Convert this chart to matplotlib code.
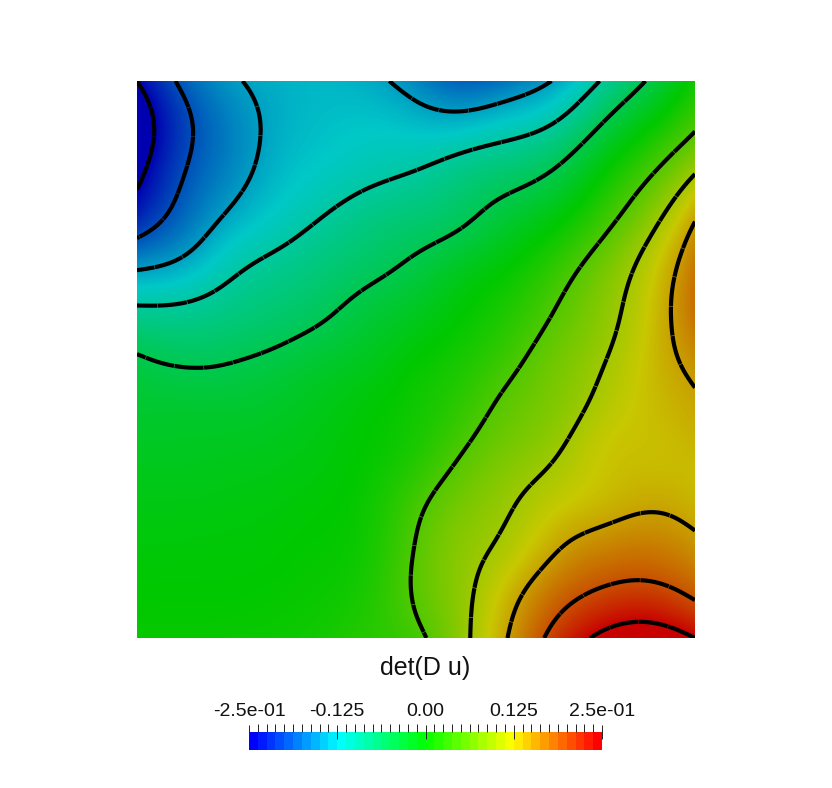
import numpy as np
import matplotlib
matplotlib.use('Agg')
import matplotlib.pyplot as plt
import matplotlib.tri as mtri
from matplotlib.colors import LinearSegmentedColormap

plt.rcParams['font.family'] = ['Liberation Sans', 'DejaVu Sans']

# det(D u), rows from the top edge to the bottom edge
row_00 = [-.25, -.19, -.155, -.14, -.135, -.142, -.165, -.19, -.175, -.148, -.097, -.047, .01]
row_01 = [-.28, -.21, -.17, -.142, -.13, -.125, -.13, -.13, -.115, -.095, -.045, 0, .045]
row_02 = [-.26, -.2, -.165, -.135, -.12, -.108, -.098, -.08, -.066, -.045, 0, .045, .1]
row_03 = [-.225, -.182, -.142, -.118, -.098, -.08, -.07, -.056, -.03, -.005, .035, .085, .15]
row_04 = [-.155, -.14, -.108, -.09, -.075, -.06, -.043, -.02, 0, .03, .07, .115, .175]
row_05 = [-.09, -.09, -.08, -.069, -.055, -.035, -.02, 0, .02, .052, .085, .125, .18]
row_06 = [-.045, -.055, -.052, -.043, -.03, -.018, 0, .015, .04, .07, .097, .13, .16]
row_07 = [-.03, -.03, -.03, -.025, -.015, -.003, .01, .03, .06, .08, .11, .13, .145]
row_08 = [-.02, -.02, -.018, -.015, -.008, .002, .018, .05, .076, .097, .125, .13, .135]
row_09 = [-.012, -.012, -.01, -.007, -.002, .008, .04, .072, .095, .118, .132, .143, .135]
row_10 = [-.006, -.005, -.004, -.002, .002, .012, .052, .086, .108, .145, .165, .172, .158]
row_11 = [0, 0, 0, .002, .006, .018, .055, .09, .135, .18, .204, .211, .19]
row_12 = [.004, .004, .005, .007, .012, .025, .04, .09, .152, .215, .26, .275, .25]
rows = [row_00, row_01, row_02, row_03, row_04, row_05, row_06,
        row_07, row_08, row_09, row_10, row_11, row_12]

levels = [-.25, -.2, -.15, -.1, -.05, .05, .1, .15, .2, .25]
bar_ticks = [-.25, -.125, 0, .125, .25]
bar_labels = ['-2.5e-01', '-0.125', '0.00', '0.125', '2.5e-01']
title = 'det(D u)'

W, H = 832, 788


def soften(a, sigma=13):
    # gaussian along both axes, edges continued by odd reflection
    r = 3 * sigma
    k = np.exp(-0.5 * (np.arange(-r, r + 1) / sigma) ** 2)
    k /= k.sum()
    for axis in (0, 1):
        a = np.moveaxis(a, axis, 0)
        top = 2 * a[0] - a[r:0:-1]
        bot = 2 * a[-1] - a[-2:-r - 2:-1]
        p = np.concatenate([top, a, bot])
        a = np.apply_along_axis(lambda c: np.convolve(c, k, mode='valid'), 0, p)
        a = np.moveaxis(a, 0, axis)
    return a


fig = plt.figure(figsize=(W / 100, H / 100), dpi=100)
ax = fig.add_axes([137 / W, 1 - 638 / H, 558 / W, 557 / H])

values = np.array(rows)[::-1]
gx, gy = np.meshgrid(np.linspace(0, 1, 13), np.linspace(0, 1, 13))
tri = mtri.Triangulation(gx.ravel(), gy.ravel())
interp = mtri.CubicTriInterpolator(tri, values.ravel(), kind='min_E')
fx, fy = np.meshgrid(np.linspace(0, 1, 558), np.linspace(0, 1, 557))
field = soften(np.ma.filled(interp(fx, fy), 0.0))

# the surface is lit, so it is darker than the colour bar
surf_cmap = LinearSegmentedColormap.from_list(
    'surf', ['#0000b0', '#00c8c8', '#00c800', '#c8c800', '#c80000'], N=512)
bar_cmap = LinearSegmentedColormap.from_list(
    'bar', ['#0000ff', '#00ffff', '#00ff00', '#ffff00', '#ff0000'], N=40)

ax.imshow(field, origin='lower', extent=[0, 1, 0, 1], cmap=surf_cmap,
          vmin=-.25, vmax=.25, aspect='auto', interpolation='bilinear')
ax.contour(fx, fy, field, levels=levels, colors='k', linewidths=3.0,
           linestyles=[(0, (7, 0.12))])
ax.axis('off')

fig.text(425 / W, 1 - 668 / H, title, ha='center', va='center', fontsize=18, color='#111111')

cax = fig.add_axes([249 / W, 1 - 750 / H, 353 / W, 18 / H])
cax.imshow(np.linspace(-.25, .25, 40)[None, :], extent=[-.25, .25, 0, 1],
           cmap=bar_cmap, vmin=-.25, vmax=.25, aspect='auto', interpolation='nearest')
for s in cax.spines.values():
    s.set_visible(False)
cax.set_yticks([])
cax.xaxis.tick_top()
cax.set_xticks(bar_ticks)
cax.set_xticklabels(bar_labels)
cax.set_xticks(np.linspace(-.25, .25, 41), minor=True)
cax.tick_params(axis='x', which='major', direction='inout', length=10, width=0.7,
                color='#222222', labelsize=14, pad=4, labelcolor='#111111')
cax.tick_params(axis='x', which='minor', direction='out', length=6, width=0.7, color='#222222')

fig.savefig('out.png', dpi=100)
